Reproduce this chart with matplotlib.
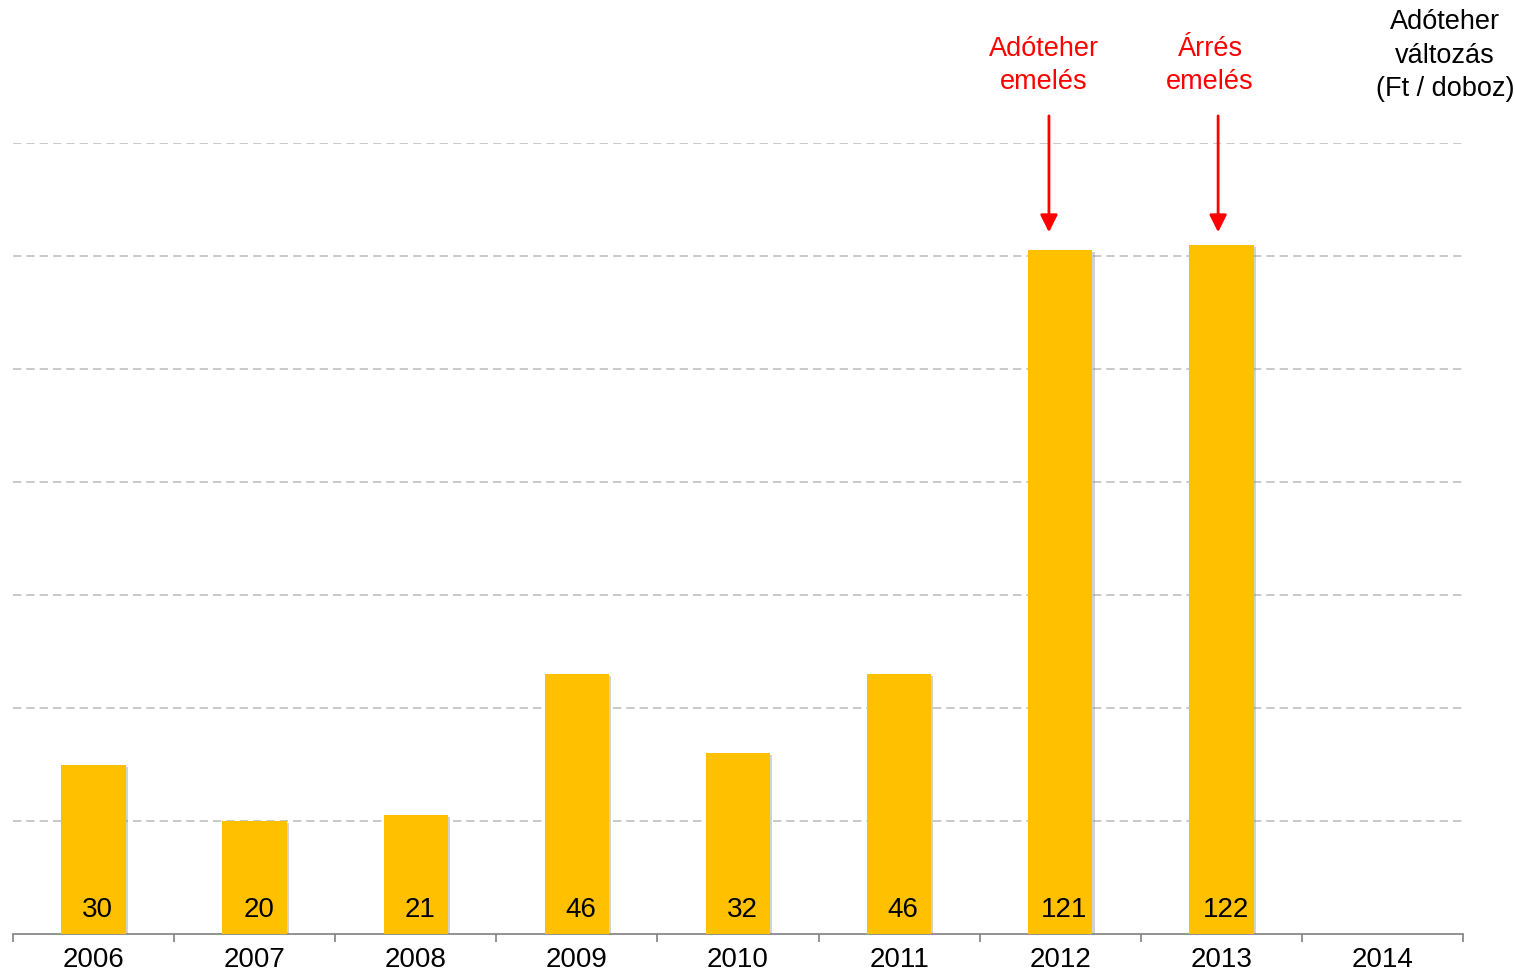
import matplotlib
matplotlib.use("Agg")
from matplotlib import pyplot as plt
import matplotlib.patheffects as pe

plt.rcParams['font.family'] = ['Liberation Sans', 'DejaVu Sans']

years = ['2006', '2007', '2008', '2009', '2010', '2011', '2012', '2013', '2014']
values = [30, 20, 21, 46, 32, 46, 121, 122]
notes = ['Adóteher\nemelés', 'Árrés\nemelés']
note_idx = [6, 7]
note_dx = [-0.07, -0.02]
note_text_dx = [-0.1, -0.07]

bar_color = '#FFC000'

fig = plt.figure(figsize=(15.15, 9.78), dpi=100)
ax = fig.add_axes([13 / 1515, 43 / 978, 1450 / 1515, 791 / 978])

xs = list(range(len(values)))
bars = ax.bar(xs, values, width=0.4, color=bar_color, zorder=3,
              path_effects=[pe.SimplePatchShadow(offset=(1.5, -1.5), shadow_rgbFace='#808080', alpha=0.35),
                            pe.Normal()])

for x, v in zip(xs, values):
    ax.annotate(str(v), (x, 0), xytext=(3, 8.5), textcoords='offset points',
                ha='center', va='bottom', fontsize=20, color='black', zorder=4)

ax.set_xlim(-0.5, len(years) - 0.5)
ax.set_ylim(0, 140)
ax.set_yticks(range(20, 141, 20))
ax.yaxis.grid(True, color='#C0C0C0', linestyle=(0, (5, 3)), linewidth=1.2, zorder=0)
ax.tick_params(axis='y', left=False, labelleft=False)

ax.set_xticks([i + 0.5 for i in range(-1, len(years))], minor=False)
ax.set_xticklabels([])
ax.set_xticks(range(len(years)), minor=True)
ax.set_xticklabels(years, minor=True, fontsize=20)
ax.tick_params(axis='x', which='major', direction='out', length=6, width=1.2, color='#808080')
ax.tick_params(axis='x', which='minor', length=0, pad=9)

for s in ['top', 'right', 'left']:
    ax.spines[s].set_visible(False)
ax.spines['bottom'].set_color('#808080')
ax.spines['bottom'].set_linewidth(1.2)

for i, txt, dx, tdx in zip(note_idx, notes, note_dx, note_text_dx):
    ax.annotate('', xy=(i + dx, 124.2), xytext=(i + dx, 144.8),
                arrowprops=dict(arrowstyle='-|>', color='#FF0000', lw=2, mutation_scale=26,
                                shrinkA=0, shrinkB=0),
                annotation_clip=False)
    ax.text(i + tdx, 148.6, txt, ha='center', va='bottom', fontsize=19.5,
            color='#FF0000', linespacing=1.38, clip_on=False)

ax.text(8.39, 147.4, 'Adóteher\nváltozás\n(Ft / doboz)', ha='center', va='bottom',
        fontsize=19.5, color='black', linespacing=1.38, clip_on=False)

fig.savefig('out.png', dpi=100)
